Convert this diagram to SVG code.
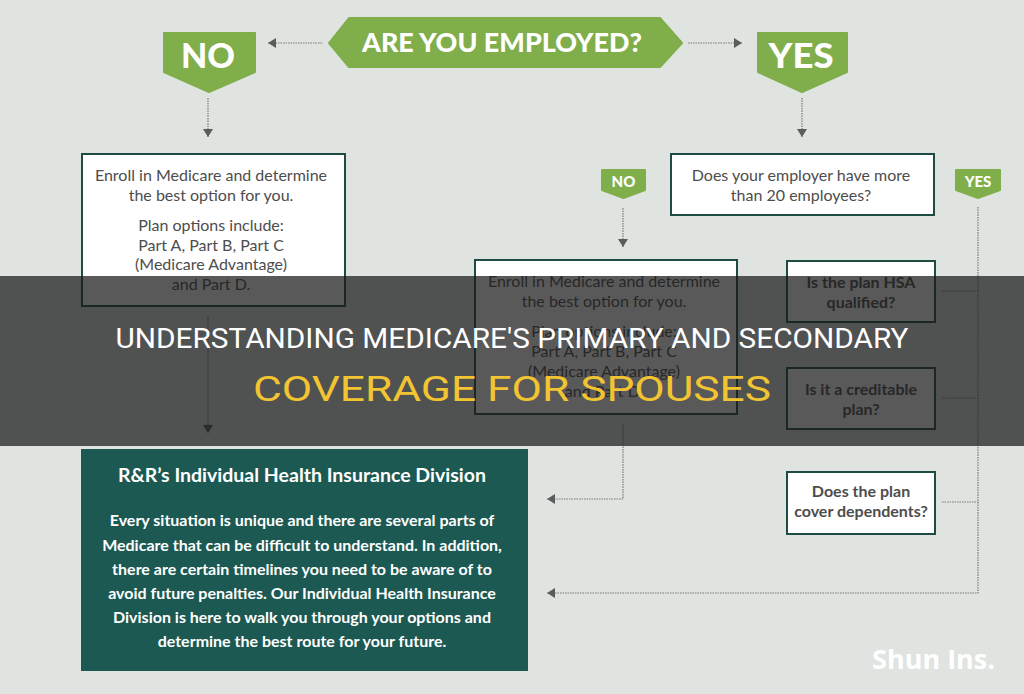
<svg xmlns="http://www.w3.org/2000/svg" width="1024" height="694" viewBox="0 0 1024 694">
<style>
.bg{fill:#dfe4e1}
.green{fill:#80ae4b;stroke:#80ae4b;stroke-width:2;stroke-linejoin:round}
.badge{font-family:Lato,"Liberation Sans",sans-serif;font-weight:900;fill:#ffffff;text-anchor:middle}
.box{fill:#ffffff;stroke:#1e4c45;stroke-width:2}
.t{font-family:Lato,"Open Sans",sans-serif;font-size:16px;fill:#4d4d4d;text-anchor:middle}
.tb{font-family:Lato,"Open Sans",sans-serif;font-size:16px;font-weight:700;fill:#4d4d4d;text-anchor:middle}
.con{fill:none;stroke:#7a7a7a;stroke-width:1.2;stroke-dasharray:1.5 1}
.teal{fill:#1c5953}
.tt{font-family:Lato,"Open Sans",sans-serif;font-weight:700;fill:#ffffff;text-anchor:middle}
.title{font-family:Roboto,"Liberation Sans",sans-serif;text-anchor:middle}
</style>
<defs>
<marker id="ah" markerUnits="userSpaceOnUse" markerWidth="10" markerHeight="11" refX="8" refY="5" orient="auto">
<path d="M0,0 L8,5 L0,10 z" fill="#5c5c5c"/>
</marker>
</defs>
<rect class="bg" x="0" y="0" width="1024" height="694"/>

<g id="connectors">
<line class="con" x1="322" y1="43" x2="268" y2="43" marker-end="url(#ah)"/>
<line class="con" x1="688" y1="43" x2="742" y2="43" marker-end="url(#ah)"/>
<line class="con" x1="208" y1="98" x2="208" y2="137" marker-end="url(#ah)"/>
<line class="con" x1="802" y1="98" x2="802" y2="137" marker-end="url(#ah)"/>
<line class="con" x1="623" y1="208" x2="623" y2="247" marker-end="url(#ah)"/>
<line class="con" x1="208" y1="316" x2="208" y2="433" marker-end="url(#ah)"/>
<path class="con" d="M623,424 V499 H547" marker-end="url(#ah)"/>
<path class="con" d="M978,207 V593 H547" marker-end="url(#ah)"/>
<line class="con" x1="942" y1="291" x2="978" y2="291"/>
<line class="con" x1="942" y1="398" x2="978" y2="398"/>
<line class="con" x1="942" y1="502" x2="978" y2="502"/>
</g>

<g id="employed">
<polygon class="green" points="329,43 349,18 660,18 682,43 660,67 349,67"/>
<text class="badge" x="502" y="52" font-size="27" textLength="280" lengthAdjust="spacingAndGlyphs">ARE YOU EMPLOYED?</text>
</g>
<g id="no-top">
<polygon class="green" points="164,33 255,33 255,72 209,92 164,72"/>
<text class="badge" x="208" y="68" font-size="34" textLength="54" lengthAdjust="spacingAndGlyphs">NO</text>
</g>
<g id="yes-top">
<polygon class="green" points="758,33 847,33 847,72 802,92 758,72"/>
<text class="badge" x="801" y="68" font-size="34" textLength="65" lengthAdjust="spacingAndGlyphs">YES</text>
</g>

<g id="box-enroll-1">
<rect class="box" x="82" y="154" width="263" height="152"/>
<text class="t" x="211" y="181">Enroll in Medicare and determine</text>
<text class="t" x="211" y="201">the best option for you.</text>
<text class="t" x="211" y="231">Plan options include:</text>
<text class="t" x="211" y="251">Part A, Part B, Part C</text>
<text class="t" x="211" y="270">(Medicare Advantage)</text>
<text class="t" x="211" y="290">and Part D.</text>
</g>

<g id="box-employer">
<rect class="box" x="671" y="154" width="263" height="61"/>
<text class="t" x="801" y="181">Does your employer have more</text>
<text class="t" x="801" y="201">than 20 employees?</text>
</g>

<g id="no-small">
<polygon class="green" points="602,170 645,170 645,190 623.5,198 602,190"/>
<text class="badge" x="623.5" y="187" font-size="15">NO</text>
</g>
<g id="yes-small">
<polygon class="green" points="956,170 1000,170 1000,190 978,198 956,190"/>
<text class="badge" x="978" y="187" font-size="15">YES</text>
</g>

<g id="box-enroll-2">
<rect class="box" x="475" y="260" width="262" height="154"/>
<text class="t" x="604" y="287">Enroll in Medicare and determine</text>
<text class="t" x="604" y="307">the best option for you.</text>
<text class="t" x="604" y="337">Plan options include:</text>
<text class="t" x="604" y="357">Part A, Part B, Part C</text>
<text class="t" x="604" y="377">(Medicare Advantage)</text>
<text class="t" x="604" y="397">and Part D.</text>
</g>

<g id="box-hsa">
<rect class="box" x="787" y="261" width="148" height="61"/>
<text class="tb" x="861" y="288">Is the plan HSA</text>
<text class="tb" x="861" y="308">qualified?</text>
</g>
<g id="box-creditable">
<rect class="box" x="787" y="368" width="148" height="61"/>
<text class="tb" x="861" y="395">Is it a creditable</text>
<text class="tb" x="861" y="415">plan?</text>
</g>
<g id="box-dependents">
<rect class="box" x="787" y="472" width="148" height="62"/>
<text class="tb" x="861" y="497">Does the plan</text>
<text class="tb" x="861" y="517">cover dependents?</text>
</g>

<g id="box-division">
<rect class="teal" x="81" y="449" width="447" height="222"/>
<text class="tt" x="302" y="482" font-size="19.5">R&amp;R’s Individual Health Insurance Division</text>
<text class="tt" x="302" y="526" font-size="16">Every situation is unique and there are several parts of</text>
<text class="tt" x="302" y="551" font-size="16">Medicare that can be difficult to understand. In addition,</text>
<text class="tt" x="302" y="575" font-size="16">there are certain timelines you need to be aware of to</text>
<text class="tt" x="302" y="599" font-size="16">avoid future penalties. Our Individual Health Insurance</text>
<text class="tt" x="302" y="623" font-size="16">Division is here to walk you through your options and</text>
<text class="tt" x="302" y="647" font-size="16">determine the best route for your future.</text>
</g>

<text x="995" y="669" font-family="'Open Sans','Noto Sans',sans-serif" font-weight="700" font-size="27" fill="#ffffff" text-anchor="end">Shun Ins.</text>

<rect x="0" y="276" width="1024" height="170" fill="#191919" fill-opacity="0.72"/>
<text class="title" x="512" y="348" font-size="27" fill="#ffffff" textLength="793" lengthAdjust="spacingAndGlyphs">UNDERSTANDING MEDICARE'S PRIMARY AND SECONDARY</text>
<text class="title" x="512" y="401" font-size="35" fill="#f3c431" textLength="518" lengthAdjust="spacingAndGlyphs">COVERAGE FOR SPOUSES</text>
</svg>
